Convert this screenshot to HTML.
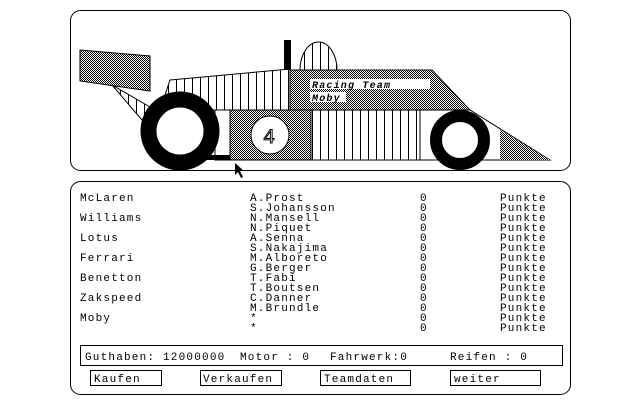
<!DOCTYPE html>
<html><head><meta charset="utf-8"><style>
html,body{margin:0;padding:0;background:#fff;width:640px;height:400px;overflow:hidden}
svg text{font-family:"Liberation Mono",monospace;font-size:11px;fill:#000;letter-spacing:1.2px}
</style></head><body>
<svg width="640" height="400" viewBox="0 0 640 400" xmlns="http://www.w3.org/2000/svg">
<defs>
<pattern id="dot" width="2" height="2" patternUnits="userSpaceOnUse"><rect width="2" height="2" fill="#fff"/><rect width="1" height="1" fill="#000"/><rect x="1" y="1" width="1" height="1" fill="#000"/></pattern>
<pattern id="vh" width="8" height="8" patternUnits="userSpaceOnUse"><rect width="8" height="8" fill="#fff"/><rect width="1" height="8" fill="#000"/></pattern>
</defs>
<rect x="70.5" y="10.5" width="500" height="160" rx="10" fill="#fff" stroke="#000"/>
<rect x="70.5" y="181.5" width="500" height="213" rx="10" fill="#fff" stroke="#000"/>
<polygon points="112,85 142,120 150,107" fill="url(#vh)" stroke="#000"/>
<polygon points="80,50 150,56 150,91 80,81" fill="url(#dot)" stroke="#000"/>
<polygon points="170,80 290,69 290,110 160,110" fill="url(#vh)" stroke="#000"/>
<polygon points="290,70 432,70 470,110 290,110" fill="url(#dot)" stroke="#000"/>
<rect x="284" y="40" width="7" height="30" fill="#000"/>
<path d="M300,70 A18.5,28 0 0 1 337,70 Z" fill="url(#vh)" stroke="#000"/>
<polygon points="215,110 470,110 550,160 215,160" fill="#fff" stroke="#000"/>
<polygon points="500,130 550,160 500,160" fill="url(#dot)"/>
<rect x="230" y="110" width="81" height="50" fill="url(#dot)" stroke="#000"/>
<rect x="311" y="110" width="109" height="50" fill="url(#vh)" stroke="#000"/>
<circle cx="270" cy="135" r="19" fill="#fff" stroke="#000"/>
<text x="263" y="143" style="font-size:20px;letter-spacing:0;fill:#fff;stroke:#000;stroke-width:1">4</text>
<rect x="205" y="155" width="25" height="5" fill="#000"/>
<circle cx="180" cy="131" r="31.5" fill="#fff" stroke="#000" stroke-width="16"/>
<circle cx="460" cy="140" r="24" fill="#fff" stroke="#000" stroke-width="12"/>
<rect x="310" y="79" width="120" height="10" fill="#fff"/>
<text x="312" y="88" style="font-style:italic;font-weight:bold;font-size:10px">Racing Team</text>
<rect x="310" y="92" width="36" height="10" fill="#fff"/>
<text x="312" y="101" style="font-style:italic;font-weight:bold;font-size:10px">Moby</text>
<polygon points="235,163 235,175 238,172 241,178 243,177 240,171 244,171" fill="#000"/>
<g>
<text x="80" y="201">McLaren</text><text x="80" y="221">Williams</text><text x="80" y="241">Lotus</text><text x="80" y="261">Ferrari</text><text x="80" y="281">Benetton</text><text x="80" y="301">Zakspeed</text><text x="80" y="321">Moby</text>
<text x="250" y="201">A.Prost</text><text x="250" y="211">S.Johansson</text><text x="250" y="221">N.Mansell</text><text x="250" y="231">N.Piquet</text><text x="250" y="241">A.Senna</text><text x="250" y="251">S.Nakajima</text><text x="250" y="261">M.Alboreto</text><text x="250" y="271">G.Berger</text><text x="250" y="281">T.Fabi</text><text x="250" y="291">T.Boutsen</text><text x="250" y="301">C.Danner</text><text x="250" y="311">M.Brundle</text><text x="250" y="321">*</text><text x="250" y="331">*</text>
</g>
<g>
<text x="420" y="201">0</text><text x="420" y="211">0</text><text x="420" y="221">0</text><text x="420" y="231">0</text><text x="420" y="241">0</text><text x="420" y="251">0</text><text x="420" y="261">0</text><text x="420" y="271">0</text><text x="420" y="281">0</text><text x="420" y="291">0</text><text x="420" y="301">0</text><text x="420" y="311">0</text><text x="420" y="321">0</text><text x="420" y="331">0</text>
<text x="500" y="201">Punkte</text><text x="500" y="211">Punkte</text><text x="500" y="221">Punkte</text><text x="500" y="231">Punkte</text><text x="500" y="241">Punkte</text><text x="500" y="251">Punkte</text><text x="500" y="261">Punkte</text><text x="500" y="271">Punkte</text><text x="500" y="281">Punkte</text><text x="500" y="291">Punkte</text><text x="500" y="301">Punkte</text><text x="500" y="311">Punkte</text><text x="500" y="321">Punkte</text><text x="500" y="331">Punkte</text>
</g>
<rect x="80.5" y="345.5" width="482" height="20" fill="none" stroke="#000"/>
<text x="85" y="360">Guthaben: 12000000</text><text x="240" y="360">Motor : 0</text><text x="330" y="360">Fahrwerk:0</text><text x="450" y="360">Reifen : 0</text>
<rect x="90.5" y="370.5" width="71" height="15" fill="none" stroke="#000"/><text x="94" y="382">Kaufen</text>
<rect x="200.5" y="370.5" width="81" height="15" fill="none" stroke="#000"/><text x="203" y="382">Verkaufen</text>
<rect x="320.5" y="370.5" width="90" height="15" fill="none" stroke="#000"/><text x="324" y="382">Teamdaten</text>
<rect x="450.5" y="370.5" width="90" height="15" fill="none" stroke="#000"/><text x="454" y="382">weiter</text>
</svg>
</body></html>
